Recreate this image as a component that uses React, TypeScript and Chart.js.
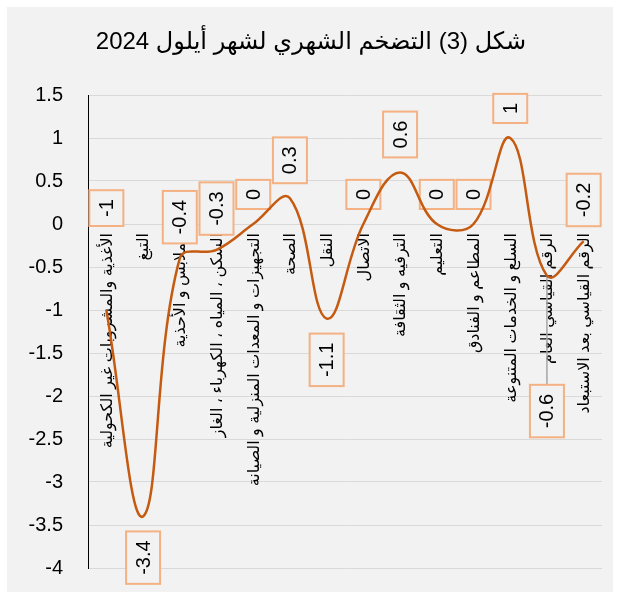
import React, { useEffect, useRef } from 'react';
import { Chart, registerables } from 'chart.js';
Chart.register(...registerables);

const TITLE = 'شكل (3) التضخم الشهري لشهر أيلول 2024';

const categories = [
  'الأغذية والمشروبات غير الكحولية',
  'التبغ',
  'الملابس و الأحذية',
  'السكن ، المياه ، الكهرباء ، الغاز',
  'التجهيزات و المعدات المنزلية و الصيانة',
  'الصحة',
  'النقل',
  'الاتصال',
  'الترفيه و الثقافة',
  'التعليم',
  'المطاعم و الفنادق',
  'السلع و الخدمات المتنوعة',
  'الرقم القياسي العام',
  'الرقم القياسي بعد الاستبعاد',
];

const values = [-1, -3.4, -0.4, -0.3, 0, 0.3, -1.1, 0, 0.6, 0, 0, 1, -0.6, -0.2];

const valueLabels = ['-1', '-3.4', '-0.4', '-0.3', '0', '0.3', '-1.1', '0', '0.6', '0', '0', '1', '-0.6', '-0.2'];

// where each value label sits relative to its point
const labelAnchor = ['base', 'below', 'above', 'above', 'above', 'above', 'below', 'above', 'above', 'above', 'above', 'above', 'leader', 'above'];
const LEADER_VALUE = -1.87;

const Y_MIN = -4;
const Y_MAX = 1.5;
const Y_STEP = 0.5;

const FONT = 'Arial, "Liberation Sans", "DejaVu Sans", sans-serif';
const LINE_COLOR = '#c55a11';
const BOX_COLOR = '#f4b183';
const BG = '#f2f2f2';

const decorPlugin = {
  id: 'decor',
  beforeDraw(chart: any) {
    const ctx = chart.ctx;
    ctx.save();
    ctx.fillStyle = '#ffffff';
    ctx.fillRect(0, 0, chart.width, chart.height);
    ctx.fillStyle = BG;
    ctx.fillRect(7, 7, 606, 585);
    ctx.fillStyle = '#000';
    ctx.font = '24px ' + FONT;
    ctx.textAlign = 'center';
    ctx.textBaseline = 'middle';
    ctx.direction = 'rtl';
    ctx.fillText(TITLE, 311, 42);
    ctx.restore();
  },
  beforeDatasetsDraw(chart: any) {
    const ctx = chart.ctx;
    const x = chart.scales.x;
    const y = chart.scales.y;
    const zeroY = y.getPixelForValue(0);
    ctx.save();
    // category labels
    ctx.fillStyle = '#000';
    ctx.font = '16px ' + FONT;
    ctx.textAlign = 'right';
    ctx.textBaseline = 'middle';
    ctx.direction = 'rtl';
    categories.forEach((c, i) => {
      const px = x.getPixelForValue(i);
      ctx.save();
      ctx.translate(px + 1, zeroY + 9);
      ctx.rotate(-Math.PI / 2);
      ctx.fillText(c, 0, 0);
      ctx.restore();
    });
    ctx.restore();

    // value label boxes
    ctx.save();
    ctx.font = '20px ' + FONT;
    ctx.direction = 'ltr';
    const meta = chart.getDatasetMeta(0);
    valueLabels.forEach((t, i) => {
      const pt = meta.data[i];
      const px = pt.x;
      const py = pt.y;
      const tw = ctx.measureText(t).width;
      const len = tw + 18;
      const thick = 34;
      let cy;
      const a = labelAnchor[i];
      if (a === 'above') cy = py - 15 - len / 2;
      else if (a === 'below') cy = py + 15 + len / 2;
      else if (a === 'base') cy = zeroY + 2 - len / 2;
      else {
        const top = y.getPixelForValue(LEADER_VALUE);
        cy = top + len / 2;
        ctx.strokeStyle = '#a6a6a6';
        ctx.lineWidth = 1.5;
        ctx.beginPath();
        ctx.moveTo(px, py);
        ctx.lineTo(px, top);
        ctx.stroke();
      }
      ctx.save();
      ctx.translate(px, cy);
      ctx.rotate(-Math.PI / 2);
      ctx.fillStyle = BG;
      ctx.fillRect(-len / 2, -thick / 2, len, thick);
      ctx.strokeStyle = BOX_COLOR;
      ctx.lineWidth = 2;
      ctx.strokeRect(-len / 2, -thick / 2, len, thick);
      ctx.fillStyle = '#000';
      ctx.textAlign = 'center';
      ctx.textBaseline = 'middle';
      ctx.fillText(t, 0, 1);
      ctx.restore();
    });
    ctx.restore();
  },
};

export default function App() {
  const ref = useRef<HTMLCanvasElement>(null);
  useEffect(() => {
    if (!ref.current) return;
    const chart = new Chart(ref.current, {
      type: 'line',
      data: {
        labels: categories,
        datasets: [
          {
            data: values,
            borderColor: LINE_COLOR,
            borderWidth: 2.5,
            pointRadius: 0,
            tension: 0.4,
            fill: false,
          },
        ],
      },
      options: {
        animation: false,
        responsive: false,
        maintainAspectRatio: false,
        layout: { padding: { top: 95, right: 19, bottom: 27, left: 0 } },
        plugins: { legend: { display: false }, tooltip: { enabled: false }, title: { display: false } },
        scales: {
          x: { display: false, offset: true },
          y: {
            min: Y_MIN,
            max: Y_MAX,
            afterFit: (s: any) => {
              s.width = 88;
            },
            ticks: {
              stepSize: Y_STEP,
              color: '#000',
              padding: 0,
              font: { family: FONT, size: 20 },
              callback: (v: any) => String(Math.round(Number(v) * 10) / 10),
            },
            grid: {
              color: '#d9d9d9',
              drawTicks: true,
              tickLength: 25,
              tickColor: 'rgba(0,0,0,0)',
              lineWidth: 1,
            },
            border: { display: true, color: '#000', width: 1 },
          },
        },
      },
      plugins: [decorPlugin],
    });
    return () => chart.destroy();
  }, []);
  return (
    <div style={{ position: 'absolute', left: 0, top: 0, width: 621, height: 595 }}>
      <canvas ref={ref} width={621} height={595} style={{ display: 'block', width: 621, height: 595 }} />
    </div>
  );
}
